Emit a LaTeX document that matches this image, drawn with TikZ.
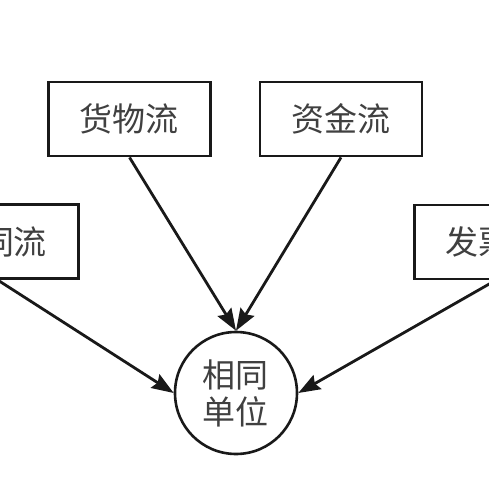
\documentclass[tikz,border=0pt]{standalone}
\usepackage{fontspec}
\newfontfamily\cjk{Noto Sans CJK SC}
\usetikzlibrary{arrows.meta}

\begin{document}
\begin{tikzpicture}[x=0.5pt,y=-0.5pt,
    flowbox/.style={draw=black!90,line width=1.4pt,minimum width=81pt,minimum height=37pt,
        inner sep=0pt,text=black!75,font=\cjk\fontsize{16.5pt}{18.5pt}\selectfont},
    unitnode/.style={draw=black!90,circle,line width=1.3pt,minimum size=61pt,inner sep=0pt,
        align=center,text=black!75,font=\cjk\fontsize{16.5pt}{18.5pt}\selectfont},
    toarrow/.style={draw=black!90,line width=1.4pt,-{Stealth[length=11pt,width=8pt,inset=1.5pt]}}]
\useasboundingbox (0,0) rectangle (489,489);
\clip (0,0) rectangle (489,489);
\node[flowbox] (hw) at (129.5,119) {货物流};
\node[flowbox] (zj) at (341,119) {资金流};
\node[flowbox] (ht) at (-2.5,241.5) {合同流};
\node[flowbox] (fp) at (495.5,242) {发票流};
\node[unitnode] (xt) at (236,393) {相同\\单位};
% arrows into the circle
\draw[toarrow] (hw.south) -- (xt.north);
\draw[toarrow] (zj.south) -- (xt.north);
\draw[toarrow] (ht.south) -- (xt.west);
\draw[toarrow] (fp.south) -- (xt.east);
\end{tikzpicture}
\end{document}
